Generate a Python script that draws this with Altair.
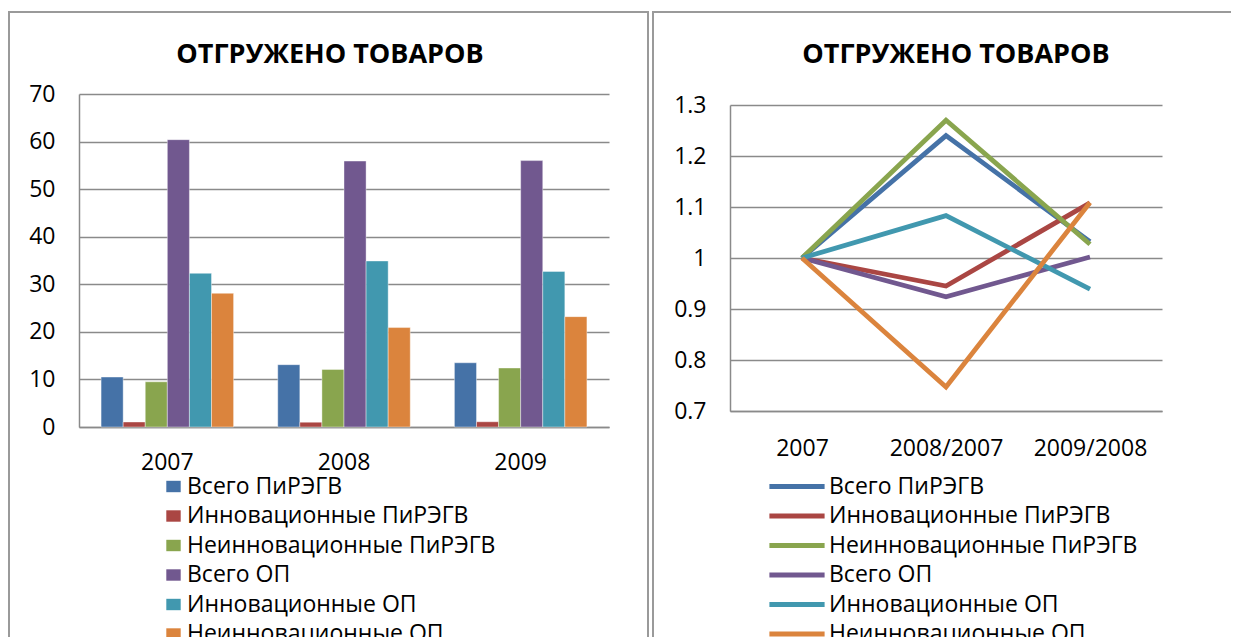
import altair as alt
import pandas as pd

FONT = "Open Sans"
TITLE = "ОТГРУЖЕНО ТОВАРОВ"

series = ["Всего ПиРЭГВ", "Инновационные ПиРЭГВ", "Неинновационные ПиРЭГВ",
          "Всего ОП", "Инновационные ОП", "Неинновационные ОП"]
colors = ["#4572A7", "#AA4643", "#89A54E", "#71588F", "#4198AF", "#DB843D"]

years = ["2007", "2008", "2009"]
vals_2007 = [10.5, 1.05, 9.5, 60.4, 32.3, 28.1]
vals_2008 = [13.1, 1.0, 12.1, 55.9, 34.9, 20.9]
vals_2009 = [13.5, 1.1, 12.4, 56.0, 32.7, 23.2]

periods = ["2007", "2008/2007", "2009/2008"]
rate_2007 = [1.0, 1.0, 1.0, 1.0, 1.0, 1.0]
rate_2008 = [1.240, 0.945, 1.270, 0.924, 1.083, 0.747]
rate_2009 = [1.032, 1.108, 1.027, 1.002, 0.939, 1.109]

y1_ticks = [0, 10, 20, 30, 40, 50, 60, 70]
y2_ticks = [0.7, 0.8, 0.9, 1.0, 1.1, 1.2, 1.3]

bar_rows = []
for yr, vals in zip(years, [vals_2007, vals_2008, vals_2009]):
    for s, v in zip(series, vals):
        bar_rows.append({"year": yr, "series": s, "value": v})
bar_df = pd.DataFrame(bar_rows)

line_rows = []
for p, vals in zip(periods, [rate_2007, rate_2008, rate_2009]):
    for s, v in zip(series, vals):
        line_rows.append({"period": p, "series": s, "rate": v})
line_df = pd.DataFrame(line_rows)

one = pd.DataFrame({"f": [0]})
GRID = "#8a8a8a"
FRAME = "#9a9a9a"
AX = 23      # axis label size
LG = 23      # legend label size

color_scale = alt.Scale(domain=series, range=colors)


def frame_rect(x0, x1, y0, y1):
    return alt.Chart(one).mark_rect(fillOpacity=0, stroke=FRAME, strokeWidth=2).encode(
        x=alt.value(x0), x2=alt.value(x1), y=alt.value(y0), y2=alt.value(y1))


def frame_open(x0, x1, y0, y1):
    left_side = alt.Chart(one).mark_rule(stroke=FRAME, strokeWidth=2).encode(
        x=alt.value(x0), y=alt.value(y0 - 1), y2=alt.value(y1))
    top_side = alt.Chart(one).mark_rule(stroke=FRAME, strokeWidth=2).encode(
        x=alt.value(x0 - 1), x2=alt.value(x1), y=alt.value(y0))
    return alt.layer(left_side, top_side)


def heading(x, y):
    return alt.Chart(one).mark_text(text=TITLE, font=FONT, fontSize=27, fontWeight="bold",
                                    color="black", align="center", baseline="middle").encode(
        x=alt.value(x), y=alt.value(y))


# ---------------- left panel: bars ----------------
W1, H1 = 530, 333
bars = alt.Chart(bar_df).mark_bar(stroke="white", strokeWidth=0.4).encode(
    x=alt.X("year:N", sort=years,
            scale=alt.Scale(paddingInner=0.25, paddingOuter=0.125),
            axis=alt.Axis(title=None, labelAngle=0, labelFontSize=AX, labelFont=FONT,
                          labelColor="black", labelPadding=24, ticks=False,
                          domainColor=GRID, domainWidth=1.5)),
    xOffset=alt.XOffset("series:N", sort=series, scale=alt.Scale(paddingInner=0, paddingOuter=0)),
    y=alt.Y("value:Q", scale=alt.Scale(domain=[0, 70], nice=False),
            axis=alt.Axis(title=None, values=y1_ticks, labelFontSize=AX, labelFont=FONT,
                          labelColor="black", labelPadding=24, ticks=False,
                          domainColor=GRID, domainWidth=1.5,
                          gridColor=GRID, gridWidth=1.5)),
    color=alt.Color("series:N", sort=series, scale=color_scale,
                    legend=alt.Legend(orient="none", legendX=83, legendY=381, title=None,
                                      labelFontSize=LG, labelFont=FONT, labelColor="black",
                                      symbolType="M-1.2,-0.95H1.2V0.95H-1.2Z", symbolSize=144,
                                      symbolStrokeWidth=0, rowPadding=5.5, labelOffset=2,
                                      padding=0, labelLimit=500)),
)

left = alt.layer(frame_rect(-70, 569, -82, 580), heading(251, -39), bars).properties(
    width=W1, height=H1)

# ---------------- right panel: lines ----------------
W2, H2 = 432, 317
lines = alt.Chart(line_df).mark_line(strokeWidth=4.8).encode(
    x=alt.X("period:N", sort=periods,
            axis=alt.Axis(title=None, labelAngle=0, labelFontSize=AX, labelFont=FONT,
                          labelColor="black", labelPadding=26, ticks=False,
                          domainColor=GRID, domainWidth=1.5, grid=False)),
    y=alt.Y("rate:Q", scale=alt.Scale(domain=[0.7, 1.3], nice=False, zero=False, range=[317, 11]),
            axis=alt.Axis(title=None, values=y2_ticks, format="~g", labelFontSize=AX,
                          labelFont=FONT, labelColor="black", labelPadding=24, ticks=False,
                          domainColor=GRID, domainWidth=1.5,
                          gridColor=GRID, gridWidth=1.5)),
    color=alt.Color("series:N", sort=series, scale=color_scale,
                    legend=alt.Legend(orient="none", legendX=55.5, legendY=381, title=None,
                                      labelFontSize=LG, labelFont=FONT, labelColor="black",
                                      symbolType="M-4.6,0H4.6", symbolSize=144,
                                      symbolStrokeWidth=4.8, rowPadding=5.5, labelOffset=20.5,
                                      padding=0, labelLimit=500)),
    detail="series:N",
)

right = alt.layer(frame_open(-77, 501, -82, 580), heading(226, -39), lines).properties(
    width=W2, height=H2)

chart = alt.hconcat(left, right, spacing=2).resolve_scale(
    color="independent").resolve_legend(color="independent").properties(
    padding={"left": 0, "top": 2, "right": 0, "bottom": 0}
).configure_view(stroke=None)

chart.save("out.html", embed_options={"renderer": "svg", "actions": False})
